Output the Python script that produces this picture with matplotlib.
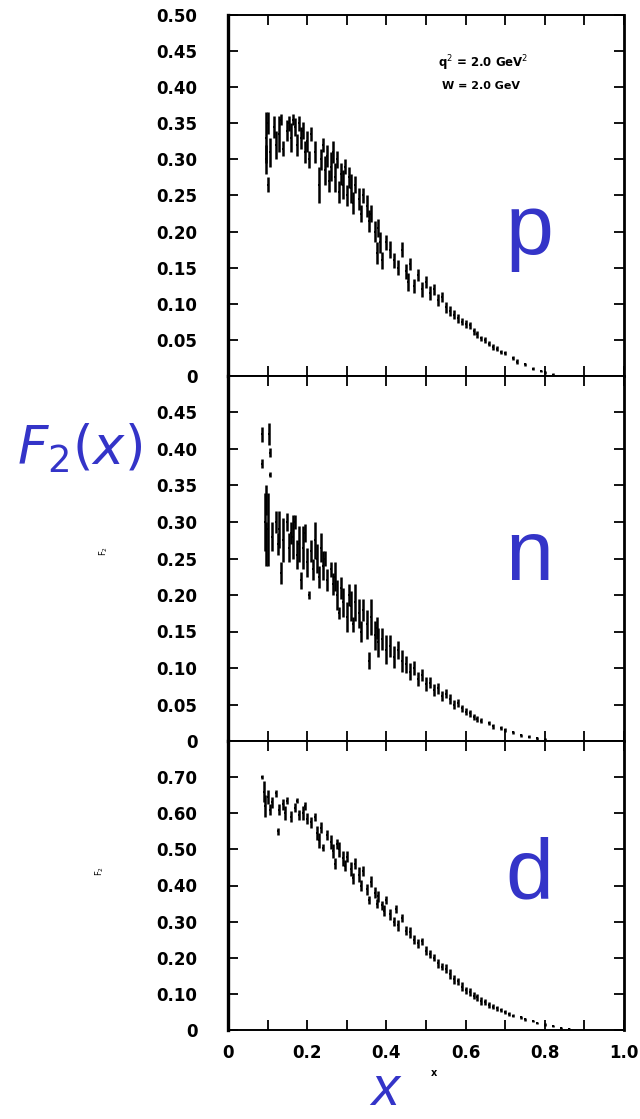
import numpy as np
import matplotlib
matplotlib.use('Agg')
import matplotlib.pyplot as plt

# proton, F2 vs x
p_x = [0.095, 0.097, 0.100, 0.100, 0.105, 0.115, 0.120, 0.130, 0.135, 0.140,
       0.150, 0.155, 0.160, 0.165, 0.170, 0.175, 0.180, 0.185, 0.190, 0.195,
       0.200, 0.205, 0.210, 0.220, 0.230, 0.235, 0.240, 0.245, 0.250, 0.255,
       0.260, 0.265, 0.270, 0.275, 0.280, 0.285, 0.290, 0.295, 0.300, 0.305,
       0.310, 0.315, 0.320, 0.330, 0.335, 0.340, 0.350, 0.355, 0.360, 0.370,
       0.375, 0.380, 0.385, 0.390, 0.400, 0.410, 0.420, 0.430, 0.440, 0.450,
       0.455, 0.460, 0.470, 0.480, 0.490, 0.500, 0.510, 0.520, 0.530, 0.540,
       0.550, 0.560, 0.570, 0.580, 0.590, 0.600, 0.610, 0.620, 0.630, 0.640,
       0.650, 0.660, 0.670, 0.680, 0.690, 0.700, 0.720, 0.730, 0.750, 0.770,
       0.790, 0.800, 0.820]
p_y = [0.330, 0.300, 0.350, 0.265, 0.310, 0.345, 0.320, 0.335, 0.355, 0.315,
       0.340, 0.350, 0.330, 0.355, 0.345, 0.320, 0.350, 0.330, 0.340, 0.310,
       0.325, 0.300, 0.335, 0.310, 0.265, 0.300, 0.320, 0.285, 0.305, 0.270,
       0.290, 0.310, 0.275, 0.300, 0.255, 0.280, 0.265, 0.290, 0.250, 0.275,
       0.260, 0.240, 0.265, 0.245, 0.225, 0.250, 0.235, 0.215, 0.225, 0.200,
       0.170, 0.205, 0.185, 0.160, 0.185, 0.175, 0.160, 0.150, 0.175, 0.145,
       0.130, 0.155, 0.125, 0.140, 0.120, 0.130, 0.115, 0.120, 0.105, 0.110,
       0.095, 0.090, 0.085, 0.080, 0.075, 0.072, 0.070, 0.062, 0.058, 0.052,
       0.050, 0.045, 0.040, 0.038, 0.033, 0.032, 0.025, 0.020, 0.016, 0.010,
       0.007, 0.005, 0.002]
p_err = [0.035, 0.020, 0.015, 0.010, 0.020, 0.015, 0.020, 0.025, 0.008, 0.010,
         0.015, 0.010, 0.020, 0.008, 0.012, 0.015, 0.010, 0.015, 0.012, 0.015,
         0.015, 0.012, 0.010, 0.015, 0.025, 0.015, 0.010, 0.020, 0.015, 0.015,
         0.020, 0.015, 0.020, 0.012, 0.015, 0.015, 0.020, 0.010, 0.015, 0.015,
         0.020, 0.015, 0.012, 0.015, 0.012, 0.010, 0.015, 0.015, 0.012, 0.015,
         0.015, 0.012, 0.015, 0.012, 0.010, 0.012, 0.010, 0.010, 0.010, 0.010,
         0.012, 0.008, 0.010, 0.008, 0.010, 0.008, 0.010, 0.008, 0.008, 0.007,
         0.008, 0.007, 0.006, 0.006, 0.005, 0.006, 0.005, 0.005, 0.005, 0.004,
         0.004, 0.004, 0.004, 0.003, 0.003, 0.003, 0.003, 0.003, 0.002, 0.002,
         0.002, 0.002, 0.002]

# neutron
n_x = [0.085, 0.087, 0.093, 0.095, 0.097, 0.100, 0.103, 0.105, 0.107, 0.110,
       0.120, 0.125, 0.130, 0.135, 0.140, 0.150, 0.155, 0.160, 0.165, 0.170,
       0.175, 0.180, 0.185, 0.190, 0.195, 0.200, 0.205, 0.210, 0.215, 0.220,
       0.225, 0.230, 0.235, 0.240, 0.245, 0.250, 0.260, 0.265, 0.270, 0.275,
       0.280, 0.285, 0.290, 0.300, 0.305, 0.310, 0.315, 0.320, 0.330, 0.335,
       0.340, 0.350, 0.355, 0.360, 0.370, 0.375, 0.380, 0.390, 0.400, 0.410,
       0.420, 0.430, 0.440, 0.450, 0.460, 0.470, 0.480, 0.490, 0.500, 0.510,
       0.520, 0.530, 0.540, 0.550, 0.560, 0.570, 0.580, 0.590, 0.600, 0.610,
       0.620, 0.630, 0.640, 0.660, 0.670, 0.690, 0.700, 0.720, 0.740, 0.760,
       0.780, 0.800]
n_y = [0.420, 0.380, 0.300, 0.270, 0.330, 0.290, 0.420, 0.395, 0.365, 0.280,
       0.300, 0.270, 0.290, 0.230, 0.275, 0.300, 0.265, 0.285, 0.280, 0.300,
       0.255, 0.270, 0.220, 0.265, 0.285, 0.245, 0.200, 0.260, 0.235, 0.275,
       0.250, 0.225, 0.265, 0.240, 0.250, 0.220, 0.235, 0.215, 0.225, 0.200,
       0.175, 0.210, 0.190, 0.170, 0.200, 0.185, 0.160, 0.190, 0.175, 0.150,
       0.180, 0.160, 0.110, 0.170, 0.145, 0.155, 0.135, 0.140, 0.125, 0.130,
       0.115, 0.125, 0.110, 0.105, 0.095, 0.100, 0.085, 0.090, 0.078, 0.080,
       0.070, 0.072, 0.062, 0.065, 0.058, 0.050, 0.052, 0.045, 0.040, 0.038,
       0.033, 0.030, 0.028, 0.025, 0.020, 0.018, 0.015, 0.012, 0.008, 0.006,
       0.004, 0.002]
n_err = [0.010, 0.006, 0.040, 0.030, 0.020, 0.050, 0.015, 0.006, 0.004, 0.020,
         0.015, 0.015, 0.025, 0.015, 0.030, 0.012, 0.020, 0.015, 0.030, 0.010,
         0.020, 0.025, 0.012, 0.030, 0.012, 0.020, 0.005, 0.015, 0.015, 0.025,
         0.020, 0.015, 0.020, 0.020, 0.010, 0.015, 0.010, 0.015, 0.020, 0.020,
         0.008, 0.015, 0.020, 0.020, 0.015, 0.020, 0.010, 0.025, 0.020, 0.015,
         0.015, 0.020, 0.012, 0.025, 0.020, 0.015, 0.020, 0.015, 0.020, 0.015,
         0.015, 0.012, 0.015, 0.012, 0.012, 0.010, 0.010, 0.008, 0.010, 0.008,
         0.008, 0.008, 0.007, 0.006, 0.007, 0.006, 0.005, 0.005, 0.005, 0.005,
         0.004, 0.004, 0.004, 0.003, 0.003, 0.003, 0.003, 0.002, 0.002, 0.002,
         0.002, 0.002]

# deuteron
d_x = [0.085, 0.090, 0.093, 0.100, 0.105, 0.110, 0.120, 0.125, 0.130, 0.140,
       0.145, 0.150, 0.160, 0.170, 0.175, 0.180, 0.190, 0.195, 0.200, 0.210,
       0.220, 0.225, 0.230, 0.235, 0.240, 0.250, 0.260, 0.265, 0.270, 0.275,
       0.280, 0.290, 0.295, 0.300, 0.310, 0.315, 0.320, 0.330, 0.335, 0.340,
       0.350, 0.355, 0.360, 0.370, 0.375, 0.380, 0.390, 0.395, 0.400, 0.410,
       0.420, 0.425, 0.430, 0.440, 0.450, 0.460, 0.470, 0.480, 0.490, 0.500,
       0.510, 0.520, 0.530, 0.540, 0.550, 0.560, 0.570, 0.580, 0.590, 0.600,
       0.610, 0.620, 0.630, 0.640, 0.650, 0.660, 0.670, 0.680, 0.690, 0.700,
       0.710, 0.720, 0.740, 0.750, 0.770, 0.780, 0.800, 0.820, 0.840, 0.860]
d_y = [0.700, 0.660, 0.620, 0.645, 0.610, 0.630, 0.655, 0.550, 0.610, 0.625,
       0.600, 0.635, 0.590, 0.615, 0.635, 0.595, 0.600, 0.620, 0.585, 0.575,
       0.590, 0.545, 0.525, 0.560, 0.505, 0.540, 0.520, 0.495, 0.460, 0.515,
       0.500, 0.475, 0.455, 0.480, 0.445, 0.420, 0.460, 0.430, 0.400, 0.440,
       0.390, 0.360, 0.410, 0.380, 0.350, 0.370, 0.345, 0.330, 0.360, 0.320,
       0.300, 0.335, 0.290, 0.310, 0.275, 0.270, 0.250, 0.240, 0.245, 0.220,
       0.210, 0.200, 0.185, 0.175, 0.170, 0.155, 0.140, 0.135, 0.120, 0.110,
       0.105, 0.095, 0.090, 0.080, 0.078, 0.070, 0.065, 0.060, 0.055, 0.050,
       0.045, 0.040, 0.035, 0.030, 0.025, 0.020, 0.015, 0.010, 0.006, 0.004]
d_err = [0.005, 0.030, 0.030, 0.020, 0.015, 0.015, 0.010, 0.010, 0.015, 0.015,
         0.020, 0.010, 0.015, 0.012, 0.008, 0.015, 0.020, 0.010, 0.015, 0.015,
         0.012, 0.020, 0.020, 0.015, 0.010, 0.015, 0.020, 0.020, 0.015, 0.015,
         0.020, 0.020, 0.015, 0.015, 0.020, 0.015, 0.015, 0.020, 0.015, 0.015,
         0.015, 0.012, 0.015, 0.015, 0.012, 0.015, 0.012, 0.015, 0.010, 0.015,
         0.012, 0.010, 0.015, 0.010, 0.012, 0.015, 0.012, 0.012, 0.010, 0.012,
         0.012, 0.010, 0.012, 0.010, 0.012, 0.015, 0.012, 0.010, 0.012, 0.010,
         0.012, 0.010, 0.010, 0.010, 0.008, 0.008, 0.007, 0.007, 0.006, 0.006,
         0.005, 0.005, 0.004, 0.004, 0.003, 0.003, 0.003, 0.003, 0.002, 0.002]

p_ticks = [0, 0.05, 0.10, 0.15, 0.20, 0.25, 0.30, 0.35, 0.40, 0.45, 0.50]
n_ticks = [0, 0.05, 0.10, 0.15, 0.20, 0.25, 0.30, 0.35, 0.40, 0.45]
d_ticks = [0, 0.10, 0.20, 0.30, 0.40, 0.50, 0.60, 0.70]
x_major = [0, 0.2, 0.4, 0.6, 0.8, 1.0]
x_minor = [0.1, 0.3, 0.5, 0.7, 0.9]

blue = '#3434c8'
W, H = 640, 1119
fig = plt.figure(figsize=(W / 100, H / 100), dpi=100)

left = 228 / W
width = 396 / W
ax_p = fig.add_axes([left, 1 - 376 / H, width, 361 / H])
ax_n = fig.add_axes([left, 1 - 741 / H, width, 365 / H])
ax_d = fig.add_axes([left, 1 - 1030 / H, width, 289 / H])


def ylabels(ticks):
    return ['0' if t == 0 else '%.2f' % t for t in ticks]


def style(ax, xs, ys, es, ylim, yticks, letter, letter_y):
    ax.errorbar(xs, ys, yerr=es, fmt='s', ms=1.6, color='black',
                elinewidth=1.8, capsize=0, mew=0)
    ax.set_xlim(0, 1.0)
    ax.set_ylim(*ylim)
    ax.set_yticks(yticks)
    ax.set_yticklabels(ylabels(yticks))
    ax.set_xticks(x_major)
    ax.set_xticks(x_minor, minor=True)
    ax.tick_params(axis='both', which='both', direction='in', top=True,
                   right=True, length=7, width=1.3, labelsize=12)
    ax.tick_params(axis='y', pad=22)
    for lab in ax.get_yticklabels():
        lab.set_fontweight('bold')
    ax.spines['left'].set_linewidth(2.4)
    ax.spines['right'].set_linewidth(2.0)
    ax.spines['top'].set_linewidth(1.4)
    ax.spines['bottom'].set_linewidth(1.4)
    ax.text(0.76, letter_y, letter, transform=ax.transAxes, color=blue,
            fontsize=62, family='Liberation Sans', ha='center', va='center')


style(ax_p, p_x, p_y, p_err, (0, 0.5), p_ticks, 'p', 0.40)
style(ax_n, n_x, n_y, n_err, (0, 0.5), n_ticks, 'n', 0.50)
style(ax_d, d_x, d_y, d_err, (0, 0.8), d_ticks, 'd', 0.53)

ax_p.tick_params(axis='x', labelbottom=False)
ax_n.tick_params(axis='x', labelbottom=False)
ax_d.set_xticklabels(['0', '0.2', '0.4', '0.6', '0.8', '1.0'],
                     fontweight='bold')
ax_d.tick_params(axis='x', pad=10)

ax_p.text(0.53, 0.855, 'q$^2$ = 2.0 GeV$^2$', transform=ax_p.transAxes,
          fontsize=8.5, fontweight='bold')
ax_p.text(0.54, 0.795, 'W = 2.0 GeV', transform=ax_p.transAxes,
          fontsize=8, fontweight='bold')

ax_d.text(0.52, -0.16, 'x', transform=ax_d.transAxes, fontsize=7,
          fontweight='bold', ha='center')
ax_n.text(-0.33, 0.52, 'F$_2$', transform=ax_n.transAxes, fontsize=6,
          rotation=90, va='center')
ax_d.text(-0.34, 0.55, 'F$_2$', transform=ax_d.transAxes, fontsize=6,
          rotation=90, va='center')

fig.text(80 / W, 1 - 448 / H, '$\\mathit{F}_{2}$$\\mathit{(x)}$',
         color=blue, fontsize=38, ha='center', va='center')
fig.text(385 / W, 2 / H, 'x', color=blue, fontsize=40,
         style='italic', family='Liberation Sans', ha='center', va='bottom')

fig.savefig('out.png', dpi=100)
